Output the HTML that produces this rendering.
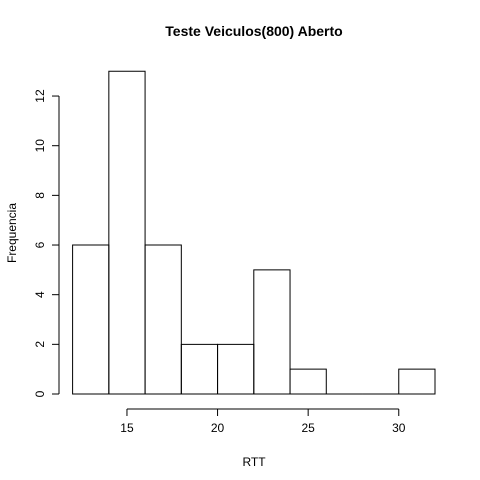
<!DOCTYPE html>
<html><head><meta charset="utf-8"><style>body{margin:0;background:#fff}svg{display:block;font-family:"Liberation Sans",Arial,sans-serif}</style></head>
<body>
<svg id="chart" width="480" height="480" viewBox="0 0 480 480">
<rect width="480" height="480" fill="#fff"/>
<text x="254" y="36" text-anchor="middle" font-size="14" font-weight="bold">Teste Veiculos(800) Aberto</text>
<text x="254" y="466" text-anchor="middle" font-size="12">RTT</text>
<text transform="translate(16,233) rotate(-90)" text-anchor="middle" font-size="12">Frequencia</text>
<g id="bars"></g><g id="xaxis"></g><g id="yaxis"></g>
</svg>
<script>
const binEdges=[12,14,16,18,20,22,24,26,28,30,32];
const counts=[6,13,6,2,2,5,1,0,0,1];
const xTicks=[15,20,25,30];
const yTicks=[0,2,4,6,8,10,12];
const ns="http://www.w3.org/2000/svg";
const X=v=>72.6+(v-12)*18.12;
const Y=v=>394-v*24.83;
function mk(t,a,p){const e=document.createElementNS(ns,t);for(const k in a)e.setAttribute(k,a[k]);p.appendChild(e);return e;}
const bars=document.getElementById('bars');
counts.forEach((c,i)=>{const x0=X(binEdges[i]),x1=X(binEdges[i+1]),y0=Y(0),y1=Y(c);
const r=mk('path',{d:`M${x0},${y0}L${x0},${y1}L${x1},${y1}L${x1},${y0}Z`,fill:'none',stroke:'#000','stroke-width':1},bars);

});
const xa=document.getElementById('xaxis');
const xl=mk('line',{x1:X(xTicks[0]),x2:X(xTicks[xTicks.length-1]),y1:409,y2:409,stroke:'#000'},xa);


xTicks.forEach(t=>{mk('line',{x1:X(t),x2:X(t),y1:409,y2:416,stroke:'#000'},xa);
const tx=mk('text',{x:X(t),y:432,'text-anchor':'middle','font-size':12},xa);tx.textContent=t;

});
const ya=document.getElementById('yaxis');
const yl=mk('line',{x1:59,x2:59,y1:Y(yTicks[0]),y2:Y(yTicks[yTicks.length-1]),stroke:'#000'},ya);


yTicks.forEach(t=>{mk('line',{x1:52,x2:59,y1:Y(t),y2:Y(t),stroke:'#000'},ya);
const tx=mk('text',{transform:'translate(44,'+Y(t)+') rotate(-90)','text-anchor':'middle','font-size':12},ya);tx.textContent=t;

});
</script>
</body></html>
